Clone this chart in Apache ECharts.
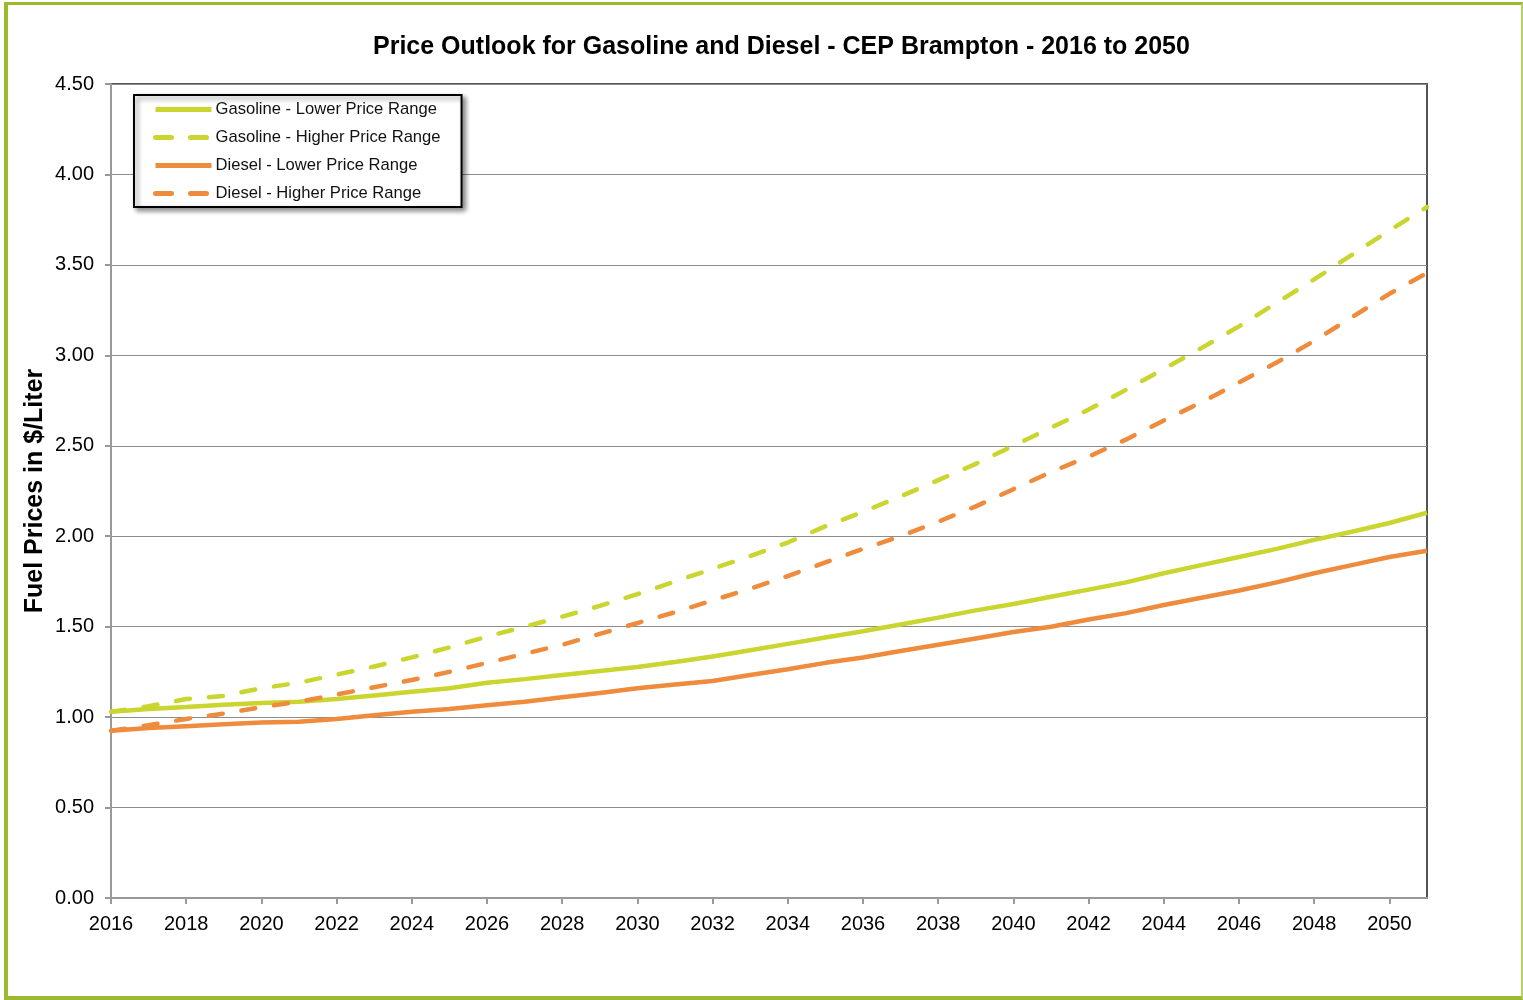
<!DOCTYPE html>
<html lang="en">
<head>
  <meta charset="UTF-8">
  <title>Price Outlook for Gasoline and Diesel - CEP Brampton</title>
  <script src="https://cdn.jsdelivr.net/npm/echarts@6.0.0/dist/echarts.min.js"></script>
  <style>
    html, body, #main {
      margin: 0;
      padding: 0;
      width: 100%;
      height: 100%;
      background: #fff;
    }
    #frame {
      position: absolute;
      left: 4px;
      top: 2px;
      right: 0;
      bottom: 0;
      box-sizing: border-box;
      border-left: 4px solid #9cba2e;
      border-top: 3px solid #9cba2e;
      border-bottom: 4px solid #9cba2e;
      border-right: 2px solid #b9cf6a;
      pointer-events: none;
    }
  </style>
</head>
<body>
  <div id="main"></div>
  <div id="frame"></div>

  <script>
    const years = [];
    for (let y = 2016; y <= 2051; y++) years.push(y);

    const xTicks = [2016, 2018, 2020, 2022, 2024, 2026, 2028, 2030, 2032, 2034,
      2036, 2038, 2040, 2042, 2044, 2046, 2048, 2050];

    const gasolineLow = [1.03, 1.045, 1.056, 1.068, 1.078, 1.085, 1.10, 1.12, 1.14, 1.16,
      1.19, 1.21, 1.233, 1.255, 1.277, 1.305, 1.335, 1.37, 1.405, 1.44,
      1.475, 1.512, 1.55, 1.59, 1.625, 1.665, 1.705, 1.745, 1.795, 1.84,
      1.885, 1.93, 1.98, 2.025, 2.073, 2.13];

    const gasolineHigh = [1.03, 1.06, 1.10, 1.117, 1.16, 1.19, 1.235, 1.28, 1.33, 1.385,
      1.445, 1.50, 1.555, 1.615, 1.68, 1.75, 1.82, 1.89, 1.965, 2.055,
      2.135, 2.22, 2.31, 2.40, 2.50, 2.60, 2.70, 2.81, 2.925, 3.04,
      3.16, 3.29, 3.42, 3.555, 3.69, 3.82];

    const dieselLow = [0.925, 0.94, 0.95, 0.96, 0.97, 0.975, 0.99, 1.01, 1.03, 1.045,
      1.065, 1.085, 1.11, 1.133, 1.16, 1.18, 1.20, 1.233, 1.265, 1.30,
      1.33, 1.365, 1.40, 1.435, 1.47, 1.50, 1.54, 1.575, 1.62, 1.66,
      1.70, 1.745, 1.795, 1.84, 1.885, 1.92];

    const dieselHigh = [0.925, 0.955, 0.99, 1.02, 1.055, 1.085, 1.125, 1.165, 1.205, 1.25,
      1.30, 1.35, 1.40, 1.46, 1.52, 1.58, 1.645, 1.71, 1.78, 1.855,
      1.93, 2.00, 2.08, 2.165, 2.26, 2.355, 2.44, 2.535, 2.64, 2.74,
      2.85, 2.96, 3.08, 3.21, 3.34, 3.455];

    const GAS = '#cad530';
    const DIESEL = '#ee8b3d';
    const FONT = '"Liberation Sans", Arial, sans-serif';

    const pairs = vals => years.map((y, i) => [y, vals[i]]);

    function lineSeries(name, color, vals, dashed) {
      return {
        name: name,
        type: 'line',
        symbol: 'none',
        smooth: false,
        data: pairs(vals),
        itemStyle: { color: color },
        lineStyle: {
          color: color,
          width: 4.5,
          type: dashed ? [14, 19] : 'solid',
          cap: dashed ? 'round' : 'butt'
        }
      };
    }

    const legendDash = { type: [16, 19], cap: 'round' };

    const chart = echarts.init(document.getElementById('main'));
    chart.setOption({
      animation: false,
      title: {
        text: 'Price Outlook for Gasoline and Diesel - CEP Brampton - 2016 to 2050',
        left: 368,
        top: 30,
        textStyle: { fontFamily: FONT, fontSize: 25, fontWeight: 'bold', color: '#000' }
      },
      legend: {
        orient: 'vertical',
        left: 134,
        top: 95,
        padding: [6, 21, 5, 19],
        itemWidth: 56,
        itemHeight: 14,
        itemGap: 11,
        backgroundColor: '#fff',
        borderColor: '#000',
        borderWidth: 2,
        borderRadius: 0,
        shadowColor: 'rgba(0,0,0,0.45)',
        shadowBlur: 5,
        shadowOffsetX: 3,
        shadowOffsetY: 3,
        itemStyle: { opacity: 0 },
        lineStyle: { width: 5 },
        textStyle: { fontFamily: FONT, fontSize: 16.6, color: '#111', padding: [0, 0, 0, -1] },
        data: [
          { name: 'Gasoline - Lower Price Range' },
          { name: 'Gasoline - Higher Price Range', lineStyle: legendDash },
          { name: 'Diesel - Lower Price Range' },
          { name: 'Diesel - Higher Price Range', lineStyle: legendDash }
        ]
      },
      grid: {
        left: 111,
        right: 96,
        top: 84,
        bottom: 102,
        show: true,
        borderColor: '#555',
        borderWidth: 2,
        containLabel: false
      },
      xAxis: {
        type: 'value',
        min: 2016,
        max: 2051,
        interval: 2,
        axisLine: { lineStyle: { color: '#999', width: 2 } },
        axisTick: { show: true, length: 6, lineStyle: { color: '#999', width: 2 }, customValues: xTicks },
        axisLabel: {
          customValues: xTicks,
          margin: 16,
          fontFamily: FONT, fontSize: 20, color: '#000',
          formatter: v => String(v)
        },
        splitLine: { show: false }
      },
      yAxis: {
        type: 'value',
        min: 0,
        max: 4.5,
        interval: 0.5,
        name: 'Fuel Prices in $/Liter',
        nameLocation: 'middle',
        nameGap: 63,
        nameMoveOverlap: false,
        nameTextStyle: { fontFamily: FONT, fontSize: 25, fontWeight: 'bold', color: '#000' },
        axisLine: { show: true, lineStyle: { color: '#999', width: 2 } },
        axisTick: { show: true, length: 6, lineStyle: { color: '#999', width: 2 } },
        axisLabel: {
          margin: 17,
          fontFamily: FONT, fontSize: 20, color: '#000',
          formatter: v => v.toFixed(2)
        },
        splitLine: { show: true, lineStyle: { color: '#8c8c8c', width: 1 } }
      },
      series: [
        lineSeries('Gasoline - Lower Price Range', GAS, gasolineLow, false),
        lineSeries('Gasoline - Higher Price Range', GAS, gasolineHigh, true),
        lineSeries('Diesel - Lower Price Range', DIESEL, dieselLow, false),
        lineSeries('Diesel - Higher Price Range', DIESEL, dieselHigh, true)
      ]
    });
  </script>
</body>
</html>
